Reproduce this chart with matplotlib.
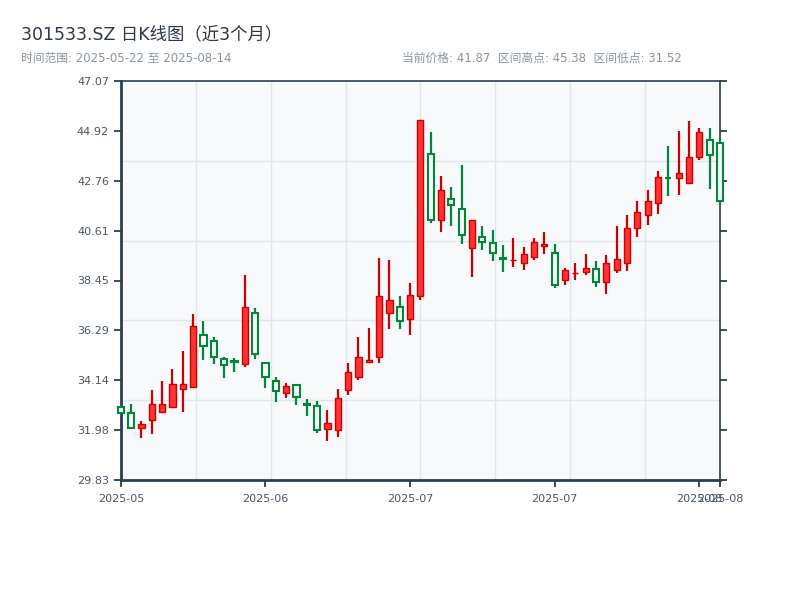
import numpy as np
import pandas as pd
import matplotlib
matplotlib.use('Agg')
import matplotlib.pyplot as plt

plt.rcParams['font.family'] = ['DejaVu Sans', 'Noto Sans CJK SC']

code = '301533.SZ'
dates = pd.bdate_range('2025-05-22', '2025-08-14')
dates = dates.drop(pd.to_datetime(['2025-06-02', '2025-07-31']))

opens = [33.00, 32.71, 32.06, 32.41, 32.75, 33.00, 33.75, 33.84, 36.11, 35.82,
         35.05, 34.99, 34.83, 37.03, 34.90, 34.12, 33.58, 33.92, 33.11, 33.01,
         32.02, 31.98, 33.71, 34.27, 34.95, 35.13, 37.03, 37.29, 36.80, 37.80,
         43.90, 41.05, 41.96, 41.53, 39.84, 40.32, 40.08, 39.43, 39.32, 39.19,
         39.45, 39.93, 39.63, 38.46, 38.76, 38.80, 38.96, 38.37, 38.89, 39.19,
         40.71, 41.27, 41.79, 42.89, 42.87, 42.65, 43.80, 44.53, 44.40]
highs = [33.02, 33.11, 32.38, 33.72, 34.11, 34.63, 35.40, 37.00, 36.70, 36.00,
         35.13, 35.09, 38.69, 37.25, 34.90, 34.27, 34.02, 33.98, 33.32, 33.24,
         32.85, 33.76, 34.89, 36.01, 36.38, 39.42, 39.34, 37.78, 38.34, 45.38,
         44.87, 42.97, 42.48, 43.44, 41.05, 40.81, 40.63, 39.97, 40.29, 39.90,
         40.29, 40.55, 40.03, 38.99, 39.21, 39.59, 39.29, 39.55, 40.81, 41.27,
         41.89, 42.36, 43.18, 44.26, 44.91, 45.35, 45.03, 45.03, 44.59]
lows = [32.71, 32.06, 31.66, 31.83, 32.75, 32.95, 32.78, 33.84, 35.00, 34.83,
        34.22, 34.51, 34.73, 35.05, 33.82, 33.21, 33.39, 33.08, 32.61, 31.85,
        31.52, 31.67, 33.52, 34.16, 34.87, 34.90, 36.37, 36.37, 36.11, 37.61,
        40.92, 40.56, 40.82, 40.01, 38.61, 39.77, 39.31, 38.83, 39.05, 38.90,
        39.34, 39.61, 38.14, 38.27, 38.48, 38.70, 38.18, 37.88, 38.79, 38.87,
        40.32, 40.86, 41.34, 42.11, 42.16, 42.65, 43.66, 42.42, 41.74]
closes = [32.71, 32.06, 32.24, 33.10, 33.10, 33.97, 33.97, 36.47, 35.62, 35.16,
          34.81, 34.95, 37.29, 35.27, 34.28, 33.68, 33.88, 33.40, 33.08, 31.98,
          32.28, 33.36, 34.48, 35.13, 35.00, 37.77, 37.60, 36.70, 37.82, 45.38,
          41.06, 42.35, 41.71, 40.42, 41.05, 40.10, 39.63, 39.40, 39.35, 39.58,
          40.10, 40.03, 38.24, 38.89, 38.79, 38.98, 38.39, 39.19, 39.37, 40.71,
          41.40, 41.87, 42.91, 42.86, 43.08, 43.77, 44.88, 43.87, 41.87]

y_min, y_max = 29.83, 47.07
y_tick_labels = ['29.83', '31.98', '34.14', '36.29', '38.45', '40.61', '42.76', '44.92', '47.07']
x_tick_idx = [0, 14, 28, 42, 56, 58]

df = pd.DataFrame({'open': opens, 'high': highs, 'low': lows, 'close': closes}, index=dates)

bg = '#f7f9fb'
up_face, up_edge = '#ff3333', '#cc0000'
down_edge = '#00873c'
spine_c = '#2c3e50'

fig = plt.figure(figsize=(8, 6), dpi=100)
ax = fig.add_axes([0.151, 0.2, 0.749, 0.665])
ax.set_facecolor(bg)

x = np.arange(len(df))
up = (df['close'] >= df['open']).values
body_bot = np.minimum(df['open'], df['close']).values
body_h = np.maximum(np.abs(df['close'] - df['open']).values, 0.02)

ax.vlines(x[up], df['low'][up], df['high'][up], color=up_edge, lw=1.6, zorder=3, clip_on=False)
ax.vlines(x[~up], df['low'][~up], df['high'][~up], color=down_edge, lw=1.6, zorder=3, clip_on=False)
ax.bar(x[up], body_h[up], bottom=body_bot[up], width=0.6, color=up_face,
       edgecolor=up_edge, linewidth=1.0, zorder=4, clip_on=False)
ax.bar(x[~up], body_h[~up], bottom=body_bot[~up], width=0.6, color=bg,
       edgecolor=down_edge, linewidth=1.5, zorder=4, clip_on=False)

ax.set_xlim(0, len(df) - 1)
ax.set_ylim(y_min, y_max)

ax.set_yticks(np.linspace(y_min, y_max, 9))
ax.set_yticklabels(y_tick_labels)
ax.set_xticks(x_tick_idx)
ax.set_xticklabels([df.index[i].strftime('%Y-%m') for i in x_tick_idx])

# 网格与刻度分开
ax.set_yticks(np.linspace(y_min, y_max, 6), minor=True)
ax.set_xticks(np.linspace(0, len(df) - 1, 9), minor=True)
ax.grid(True, which='minor', color='#e2e5ea', lw=1)
ax.grid(False, which='major')
ax.set_axisbelow(True)

ax.tick_params(which='major', direction='out', length=5, width=1.3, color=spine_c,
               labelsize=8, labelcolor='#4a5568', right=True)
ax.tick_params(which='minor', length=0)
ax.tick_params(axis='x', pad=5)

for side in ['left', 'bottom']:
    ax.spines[side].set_color(spine_c)
    ax.spines[side].set_linewidth(2)
for side in ['top', 'right']:
    ax.spines[side].set_color(spine_c)
    ax.spines[side].set_linewidth(1.2)

fig.text(0.026, 0.943, f'{code} 日K线图（近3个月）', fontsize=12.5, color='#2d3748', va='center')
fig.text(0.026, 0.903, f'时间范围: {df.index[0]:%Y-%m-%d} 至 {df.index[-1]:%Y-%m-%d}',
         fontsize=8.5, color='#8a94a6', va='center')
fig.text(0.5025, 0.903,
         f'当前价格: {closes[-1]:.2f}  区间高点: {max(highs):.2f}  区间低点: {min(lows):.2f}',
         fontsize=8.5, color='#8a94a6', va='center')

plt.savefig('out.png', dpi=100)
plt.close()
